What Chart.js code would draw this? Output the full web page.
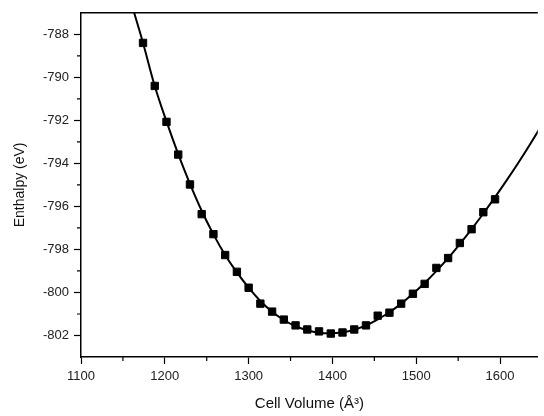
<!DOCTYPE html>
<html>
<head>
<meta charset="utf-8">
<script src="https://cdn.jsdelivr.net/npm/chart.js@4/dist/chart.umd.min.js"></script>
<style>
  html, body { margin: 0; padding: 0; background: #fff; }
  #wrap { width: 544px; height: 416px; }
</style>
</head>
<body>
<div id="wrap"><canvas id="enthalpyChart" width="544" height="416"></canvas></div>
<script>
// computed points (cell volume in Å^3, enthalpy in eV)
const volumes = [1174, 1188, 1202, 1216, 1230, 1244, 1258, 1272, 1286, 1300,
  1314, 1328, 1342, 1356, 1370, 1384, 1398, 1412, 1426, 1440,
  1454, 1468, 1482, 1496, 1510, 1524, 1538, 1552, 1566, 1580, 1594];
const enthalpy = [-788.40, -790.40, -792.07, -793.59, -794.98, -796.36, -797.29, -798.26, -799.04, -799.78,
  -800.52, -800.89, -801.26, -801.53, -801.72, -801.81, -801.91, -801.86, -801.72, -801.53,
  -801.08, -800.94, -800.52, -800.06, -799.60, -798.86, -798.40, -797.70, -797.06, -796.27, -795.67];

// fitted curve (runs past the frame at both ends)
const fitVolumes = [1158, 1174, 1188, 1202, 1216, 1230, 1244, 1258, 1272, 1286, 1300,
  1314, 1328, 1342, 1356, 1370, 1384, 1398, 1412, 1426, 1440,
  1454, 1468, 1482, 1496, 1510, 1524, 1538, 1552, 1566, 1580, 1594, 1608, 1622, 1636, 1650];
const fitEnthalpy = [-786.3, -788.40, -790.40, -792.05, -793.57, -794.95, -796.20, -797.30, -798.26, -799.07, -799.78,
  -800.40, -800.90, -801.28, -801.57, -801.76, -801.87, -801.90, -801.85, -801.73, -801.53,
  -801.25, -800.92, -800.52, -800.06, -799.56, -799.00, -798.40, -797.75, -797.06, -796.33, -795.57, -794.78, -793.96, -793.10, -792.20];

const xTicks = [1100, 1200, 1300, 1400, 1500, 1600];
const yTicks = [-802, -800, -798, -796, -794, -792, -790, -788];
const xMinor = [1150, 1250, 1350, 1450, 1550];
const yMinor = [-801, -799, -797, -795, -793, -791, -789, -787];

const FONT = "'Liberation Sans', Arial, sans-serif";

// frame on top + short minor ticks
const framePlugin = {
  id: 'frame',
  afterDraw(chart) {
    const ctx = chart.ctx;
    const area = chart.chartArea;
    const xs = chart.scales.x, ys = chart.scales.y;
    ctx.save();
    ctx.strokeStyle = '#000';
    ctx.lineWidth = 1.5;
    ctx.beginPath();
    ctx.moveTo(area.left, area.top);
    ctx.lineTo(area.right, area.top);
    ctx.stroke();
    ctx.lineWidth = 1.2;
    ctx.beginPath();
    xMinor.forEach(v => {
      const px = xs.getPixelForValue(v);
      ctx.moveTo(px, area.bottom);
      ctx.lineTo(px, area.bottom + 4);
    });
    yMinor.forEach(v => {
      const py = ys.getPixelForValue(v);
      if (py < area.top + 1) return;
      ctx.moveTo(area.left, py);
      ctx.lineTo(area.left - 4, py);
    });
    ctx.stroke();
    ctx.restore();
  }
};

const ctx = document.getElementById('enthalpyChart').getContext('2d');
new Chart(ctx, {
  type: 'scatter',
  data: {
    datasets: [{
      label: 'fit',
      data: fitVolumes.map((v, i) => ({ x: v, y: fitEnthalpy[i] })),
      showLine: true,
      borderColor: '#000',
      borderWidth: 2,
      pointRadius: 0,
      tension: 0.4,
      order: 2
    }, {
      label: 'points',
      data: volumes.map((v, i) => ({ x: v, y: enthalpy[i] })),
      pointStyle: 'rect',
      pointRadius: 5.2,
      backgroundColor: '#000',
      borderColor: '#000',
      borderWidth: 1,
      order: 1
    }]
  },
  options: {
    responsive: false,
    animation: false,
    devicePixelRatio: 1,
    layout: { padding: { top: 11, right: 0, bottom: 0, left: 0 } },
    plugins: {
      legend: { display: false },
      tooltip: { enabled: false }
    },
    scales: {
      x: {
        type: 'linear',
        min: 1100,
        max: 1645,
        afterFit: s => { s.height = 59; },
        afterBuildTicks: s => { s.ticks = xTicks.map(v => ({ value: v })); },
        border: { display: true, color: '#000', width: 1.5 },
        grid: { drawOnChartArea: false, drawTicks: true, tickLength: 7, tickColor: '#000', tickWidth: 1.2 },
        ticks: {
          color: '#222',
          padding: 5,
          maxRotation: 0,
          font: { family: FONT, size: 13 },
          callback: v => String(v)
        },
        title: {
          display: true,
          text: 'Cell Volume (Å³)',
          color: '#111',
          font: { family: FONT, size: 15 },
          padding: { top: 0, bottom: 3 }
        }
      },
      y: {
        type: 'linear',
        min: -803,
        max: -787,
        afterFit: s => { s.width = 81; },
        afterBuildTicks: s => { s.ticks = yTicks.map(v => ({ value: v })); },
        border: { display: true, color: '#000', width: 1.5 },
        grid: { drawOnChartArea: false, drawTicks: true, tickLength: 7, tickColor: '#000', tickWidth: 1.2 },
        ticks: {
          color: '#222',
          padding: 5,
          font: { family: FONT, size: 13 },
          callback: v => String(v)
        },
        title: {
          display: true,
          text: 'Enthalpy (eV)',
          color: '#111',
          font: { family: FONT, size: 14 },
          padding: { top: 12, bottom: 0 }
        }
      }
    }
  },
  plugins: [framePlugin]
});
</script>
</body>
</html>
